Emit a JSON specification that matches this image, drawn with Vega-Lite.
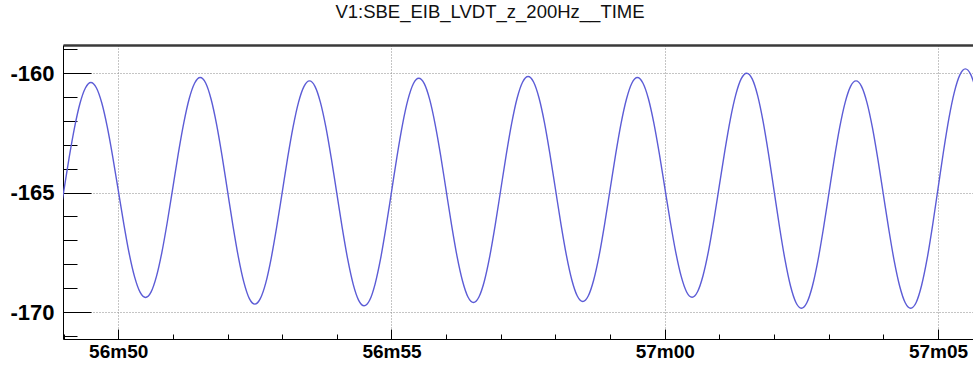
{
  "$schema": "https://vega.github.io/schema/vega-lite/v6.json",
  "width": 910,
  "height": 294,
  "autosize": "none",
  "padding": {"left": 63, "top": 45, "right": 0, "bottom": 26},
  "background": "white",
  "title": {
    "text": "V1:SBE_EIB_LVDT_z_200Hz__TIME",
    "anchor": "middle",
    "font": "Liberation Sans",
    "fontSize": 18.5,
    "fontWeight": "normal",
    "color": "#111111",
    "baseline": "alphabetic",
    "offset": 2,
    "dx": -28
  },
  "data": {
    "values": [
      {"time_s": 48.9, "z": -166.42}, {"time_s": 49.0, "z": -165.00}, {"time_s": 49.1, "z": -163.57}, {"time_s": 49.2, "z": -162.29}, {"time_s": 49.3, "z": -161.27}, {"time_s": 49.4, "z": -160.62}, {"time_s": 49.5, "z": -160.39},
      {"time_s": 49.6, "z": -160.61}, {"time_s": 49.7, "z": -161.25}, {"time_s": 49.8, "z": -162.25}, {"time_s": 49.9, "z": -163.50}, {"time_s": 50.0, "z": -164.89}, {"time_s": 50.1, "z": -166.28}, {"time_s": 50.2, "z": -167.54}, {"time_s": 50.3, "z": -168.53}, {"time_s": 50.4, "z": -169.17}, {"time_s": 50.5, "z": -169.39},
      {"time_s": 50.6, "z": -169.17}, {"time_s": 50.7, "z": -168.51}, {"time_s": 50.8, "z": -167.49}, {"time_s": 50.9, "z": -166.21}, {"time_s": 51.0, "z": -164.79}, {"time_s": 51.1, "z": -163.36}, {"time_s": 51.2, "z": -162.08}, {"time_s": 51.3, "z": -161.06}, {"time_s": 51.4, "z": -160.41}, {"time_s": 51.5, "z": -160.18},
      {"time_s": 51.6, "z": -160.41}, {"time_s": 51.7, "z": -161.09}, {"time_s": 51.8, "z": -162.14}, {"time_s": 51.9, "z": -163.46}, {"time_s": 52.0, "z": -164.93}, {"time_s": 52.1, "z": -166.39}, {"time_s": 52.2, "z": -167.71}, {"time_s": 52.3, "z": -168.76}, {"time_s": 52.4, "z": -169.44}, {"time_s": 52.5, "z": -169.67},
      {"time_s": 52.6, "z": -169.44}, {"time_s": 52.7, "z": -168.78}, {"time_s": 52.8, "z": -167.74}, {"time_s": 52.9, "z": -166.44}, {"time_s": 53.0, "z": -165.00}, {"time_s": 53.1, "z": -163.55}, {"time_s": 53.2, "z": -162.25}, {"time_s": 53.3, "z": -161.21}, {"time_s": 53.4, "z": -160.55}, {"time_s": 53.5, "z": -160.32},
      {"time_s": 53.6, "z": -160.55}, {"time_s": 53.7, "z": -161.22}, {"time_s": 53.8, "z": -162.26}, {"time_s": 53.9, "z": -163.58}, {"time_s": 54.0, "z": -165.03}, {"time_s": 54.1, "z": -166.49}, {"time_s": 54.2, "z": -167.80}, {"time_s": 54.3, "z": -168.84}, {"time_s": 54.4, "z": -169.51}, {"time_s": 54.5, "z": -169.74},
      {"time_s": 54.6, "z": -169.51}, {"time_s": 54.7, "z": -168.83}, {"time_s": 54.8, "z": -167.78}, {"time_s": 54.9, "z": -166.45}, {"time_s": 55.0, "z": -164.98}, {"time_s": 55.1, "z": -163.50}, {"time_s": 55.2, "z": -162.17}, {"time_s": 55.3, "z": -161.12}, {"time_s": 55.4, "z": -160.44}, {"time_s": 55.5, "z": -160.21},
      {"time_s": 55.6, "z": -160.44}, {"time_s": 55.7, "z": -161.11}, {"time_s": 55.8, "z": -162.15}, {"time_s": 55.9, "z": -163.45}, {"time_s": 56.0, "z": -164.91}, {"time_s": 56.1, "z": -166.36}, {"time_s": 56.2, "z": -167.67}, {"time_s": 56.3, "z": -168.70}, {"time_s": 56.4, "z": -169.37}, {"time_s": 56.5, "z": -169.60},
      {"time_s": 56.6, "z": -169.37}, {"time_s": 56.7, "z": -168.70}, {"time_s": 56.8, "z": -167.65}, {"time_s": 56.9, "z": -166.33}, {"time_s": 57.0, "z": -164.87}, {"time_s": 57.1, "z": -163.41}, {"time_s": 57.2, "z": -162.09}, {"time_s": 57.3, "z": -161.04}, {"time_s": 57.4, "z": -160.37}, {"time_s": 57.5, "z": -160.14},
      {"time_s": 57.6, "z": -160.37}, {"time_s": 57.7, "z": -161.04}, {"time_s": 57.8, "z": -162.08}, {"time_s": 57.9, "z": -163.40}, {"time_s": 58.0, "z": -164.85}, {"time_s": 58.1, "z": -166.31}, {"time_s": 58.2, "z": -167.62}, {"time_s": 58.3, "z": -168.66}, {"time_s": 58.4, "z": -169.33}, {"time_s": 58.5, "z": -169.56},
      {"time_s": 58.6, "z": -169.33}, {"time_s": 58.7, "z": -168.66}, {"time_s": 58.8, "z": -167.63}, {"time_s": 58.9, "z": -166.32}, {"time_s": 59.0, "z": -164.87}, {"time_s": 59.1, "z": -163.42}, {"time_s": 59.2, "z": -162.11}, {"time_s": 59.3, "z": -161.08}, {"time_s": 59.4, "z": -160.41}, {"time_s": 59.5, "z": -160.18},
      {"time_s": 59.6, "z": -160.41}, {"time_s": 59.7, "z": -161.06}, {"time_s": 59.8, "z": -162.08}, {"time_s": 59.9, "z": -163.36}, {"time_s": 60.0, "z": -164.78}, {"time_s": 60.1, "z": -166.20}, {"time_s": 60.2, "z": -167.48}, {"time_s": 60.3, "z": -168.50}, {"time_s": 60.4, "z": -169.16}, {"time_s": 60.5, "z": -169.38},
      {"time_s": 60.6, "z": -169.15}, {"time_s": 60.7, "z": -168.48}, {"time_s": 60.8, "z": -167.45}, {"time_s": 60.9, "z": -166.14}, {"time_s": 61.0, "z": -164.69}, {"time_s": 61.1, "z": -163.24}, {"time_s": 61.2, "z": -161.93}, {"time_s": 61.3, "z": -160.90}, {"time_s": 61.4, "z": -160.23}, {"time_s": 61.5, "z": -160.00},
      {"time_s": 61.6, "z": -160.24}, {"time_s": 61.7, "z": -160.94}, {"time_s": 61.8, "z": -162.03}, {"time_s": 61.9, "z": -163.40}, {"time_s": 62.0, "z": -164.92}, {"time_s": 62.1, "z": -166.44}, {"time_s": 62.2, "z": -167.81}, {"time_s": 62.3, "z": -168.90}, {"time_s": 62.4, "z": -169.60}, {"time_s": 62.5, "z": -169.84},
      {"time_s": 62.6, "z": -169.61}, {"time_s": 62.7, "z": -168.93}, {"time_s": 62.8, "z": -167.88}, {"time_s": 62.9, "z": -166.55}, {"time_s": 63.0, "z": -165.08}, {"time_s": 63.1, "z": -163.61}, {"time_s": 63.2, "z": -162.28}, {"time_s": 63.3, "z": -161.23}, {"time_s": 63.4, "z": -160.55}, {"time_s": 63.5, "z": -160.32},
      {"time_s": 63.6, "z": -160.55}, {"time_s": 63.7, "z": -161.23}, {"time_s": 63.8, "z": -162.28}, {"time_s": 63.9, "z": -163.61}, {"time_s": 64.0, "z": -165.08}, {"time_s": 64.1, "z": -166.55}, {"time_s": 64.2, "z": -167.88}, {"time_s": 64.3, "z": -168.93}, {"time_s": 64.4, "z": -169.61}, {"time_s": 64.5, "z": -169.84},
      {"time_s": 64.6, "z": -169.60}, {"time_s": 64.7, "z": -168.88}, {"time_s": 64.8, "z": -167.78}, {"time_s": 64.9, "z": -166.38}, {"time_s": 65.0, "z": -164.83}, {"time_s": 65.1, "z": -163.28}, {"time_s": 65.2, "z": -161.88}, {"time_s": 65.3, "z": -160.78}, {"time_s": 65.4, "z": -160.07}, {"time_s": 65.5, "z": -159.82},
      {"time_s": 65.6, "z": -160.06}, {"time_s": 65.7, "z": -160.75}
    ]
  },
  "layer": [
    {
      "mark": {"type": "line", "color": "#5c5cd6", "strokeWidth": 1.4, "interpolate": "monotone", "clip": true},
      "encoding": {
        "x": {
          "field": "time_s",
          "type": "quantitative",
          "scale": {"domain": [48.99, 65.64], "nice": false, "zero": false},
          "axis": {
            "orient": "bottom",
            "title": null,
            "values": [49, 50, 51, 52, 53, 54, 55, 56, 57, 58, 59, 60, 61, 62, 63, 64, 65],
            "labelExpr": "datum.value % 5 === 0 ? (56 + floor(datum.value / 60)) + 'm' + (datum.value % 60 < 10 ? '0' : '') + (datum.value % 60) : ''",
            "labelFont": "Liberation Sans",
            "labelFontWeight": "bold",
            "labelFontSize": 19,
            "labelColor": "#000000",
            "labelBaseline": "top",
            "labelPadding": 13,
            "labelOverlap": false,
            "labelFlush": false,
            "domainColor": "#000000",
            "domainWidth": 1,
            "tickColor": "#000000",
            "tickWidth": 1,
            "tickSize": {"condition": {"test": "datum.value % 5 === 0", "value": -10}, "value": -5},
            "grid": true,
            "gridColor": "#8a8a8a",
            "gridDash": [1, 2],
            "gridWidth": 1,
            "gridOpacity": {"condition": {"test": "datum.value % 5 === 0", "value": 1}, "value": 0}
          }
        },
        "y": {
          "field": "z",
          "type": "quantitative",
          "scale": {"domain": [-171.13, -158.82], "nice": false, "zero": false},
          "axis": {
            "orient": "left",
            "title": null,
            "values": [-171, -170, -169, -168, -167, -166, -165, -164, -163, -162, -161, -160, -159],
            "labelExpr": "datum.value % 5 === 0 ? toString(datum.value) : ''",
            "labelFont": "Liberation Sans",
            "labelFontWeight": "bold",
            "labelFontSize": 22,
            "labelColor": "#000000",
            "labelBaseline": "middle",
            "labelPadding": 37,
            "labelOverlap": false,
            "labelFlush": false,
            "domainColor": "#000000",
            "domainWidth": 1,
            "tickColor": "#000000",
            "tickWidth": 1,
            "tickSize": {"condition": {"test": "datum.value % 5 === 0", "value": -28}, "value": -14},
            "grid": true,
            "gridColor": "#8a8a8a",
            "gridDash": [1, 2],
            "gridWidth": 1,
            "gridOpacity": {"condition": {"test": "datum.value % 5 === 0", "value": 1}, "value": 0}
          }
        }
      }
    },
    {
      "mark": {"type": "rule", "strokeOpacity": 0},
      "encoding": {
        "x": {
          "field": "time_s",
          "type": "quantitative",
          "axis": {
            "orient": "top",
            "title": null,
            "labels": false,
            "ticks": false,
            "grid": false,
            "domainColor": "#3a3a3a",
            "domainWidth": 2.5
          }
        }
      }
    }
  ],
  "resolve": {"axis": {"x": "independent"}},
  "config": {"view": {"stroke": null}}
}
